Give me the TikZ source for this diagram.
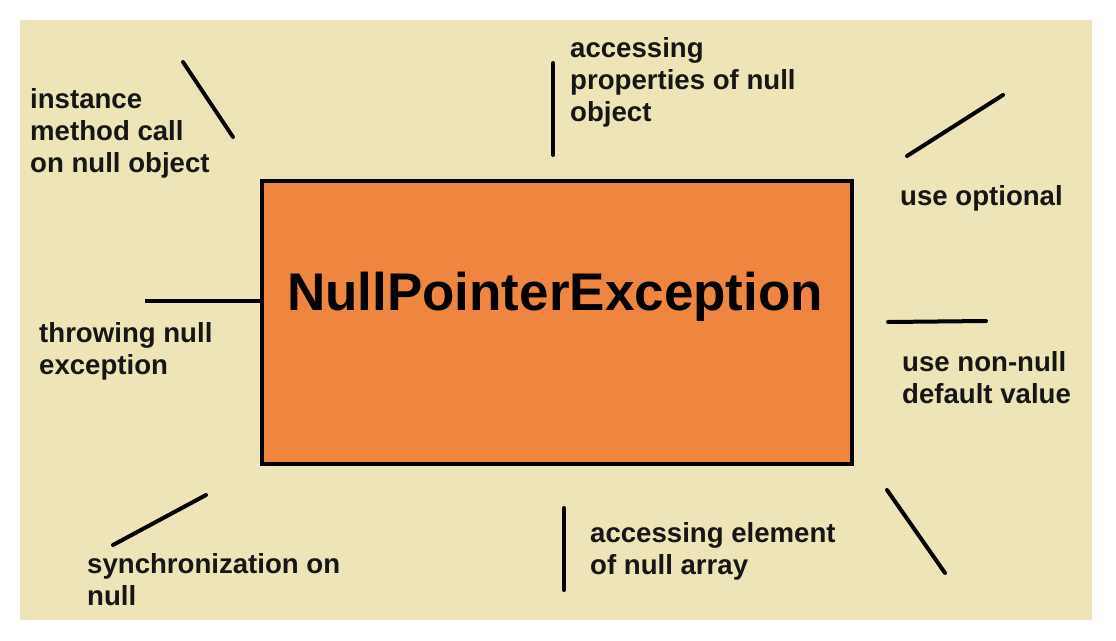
\documentclass[tikz,border=0pt]{standalone}
\usepackage{fontspec}
\setmainfont{Liberation Sans}
\definecolor{bgbeige}{RGB}{237,228,184}
\definecolor{boxorange}{RGB}{238,134,64}
\definecolor{inkdark}{RGB}{22,22,22}
\tikzset{
  cause/.style={anchor=base west,inner sep=0pt,align=left,text=inkdark,
    font=\fontsize{27.6}{32}\selectfont\bfseries},
  stroke/.style={line width=4pt,line cap=round,draw=black}
}
\begin{document}
\begin{tikzpicture}[x=1pt,y=-1pt]
\useasboundingbox (0,0) rectangle (1116,640);
\fill[white] (0,0) rectangle (1116,640);
\fill[bgbeige] (20,20) rectangle (1092,620);
% centre box
\node[draw=black,line width=4pt,fill=boxorange,minimum width=590pt,minimum height=283pt,inner sep=0pt] (npe) at (557,322.5) {};
\node[anchor=base,inner sep=0pt,text=black,font=\fontsize{53}{60}\selectfont\bfseries] (title) at (555,310) {NullPointerException};
% causes (placed by the baseline of their last line)
\node[cause] (inst) at (30,172) {instance\\method call\\on null object};
\node[cause] (prop) at (570,121) {accessing\\properties of null\\object};
\node[cause] (opt) at (900,205) {use optional};
\node[cause] (dflt) at (902,403) {use non-null\\default value};
\node[cause] (thrw) at (39,374) {throwing null\\exception};
\node[cause] (arr) at (590,574) {accessing element\\of null array};
\node[cause] (sync) at (87,605) {synchronization on\\null};
% strokes
\coordinate (a1) at (183,62);  \coordinate (a2) at (233,137);
\coordinate (b1) at (553,63);  \coordinate (b2) at (553,155);
\coordinate (c1) at (907,156); \coordinate (c2) at (1003,95);
\coordinate (d1) at (888,322); \coordinate (d2) at (986,321);
\coordinate (e1) at (145,301);
\coordinate (f1) at (564,508); \coordinate (f2) at (564,590);
\coordinate (g1) at (887,490); \coordinate (g2) at (945,573);
\coordinate (h1) at (113,545); \coordinate (h2) at (206,495);
\draw[stroke] (a1) -- (a2);
\draw[stroke] (b1) -- (b2);
\draw[stroke] (c1) -- (c2);
\draw[stroke] (d1) -- (d2);
\draw[stroke,line cap=butt] (e1) -- (e1 -| npe.west);
\draw[stroke] (f1) -- (f2);
\draw[stroke] (g1) -- (g2);
\draw[stroke] (h1) -- (h2);
\end{tikzpicture}
\end{document}
